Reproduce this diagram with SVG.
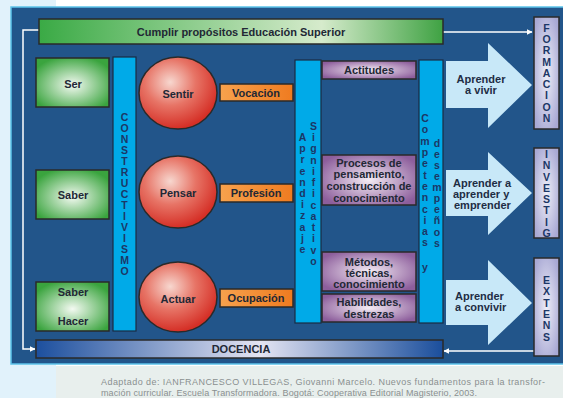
<svg xmlns="http://www.w3.org/2000/svg" width="563" height="398" viewBox="0 0 563 398">
<defs>
<linearGradient id="gTop" x1="0" y1="0" x2="1" y2="0">
<stop offset="0" stop-color="#3aaa45"/><stop offset="0.7" stop-color="#d6ebcc"/><stop offset="1" stop-color="#3fa243"/>
</linearGradient>
<linearGradient id="gDoc" x1="0" y1="0" x2="1" y2="0">
<stop offset="0" stop-color="#1c4f9e"/><stop offset="0.55" stop-color="#e4e4f2"/><stop offset="1" stop-color="#1a4e9c"/>
</linearGradient>
<radialGradient id="gGreen" cx="0.5" cy="0.55" r="0.6">
<stop offset="0" stop-color="#f4faf2"/><stop offset="1" stop-color="#3aa43e"/>
</radialGradient>
<radialGradient id="gRed" cx="0.4" cy="0.35" r="0.65">
<stop offset="0" stop-color="#f7d7cf"/><stop offset="0.5" stop-color="#e77466"/><stop offset="1" stop-color="#d52f26"/>
</radialGradient>
<linearGradient id="gOr" x1="0" y1="0" x2="1" y2="0">
<stop offset="0" stop-color="#f7a24d"/><stop offset="1" stop-color="#ef7b20"/>
</linearGradient>
<radialGradient id="gPur" cx="0.5" cy="0.5" r="0.6">
<stop offset="0" stop-color="#f4ecf4"/><stop offset="1" stop-color="#8d5e9c"/>
</radialGradient>
<radialGradient id="gLav" cx="0.5" cy="0.5" r="0.6">
<stop offset="0" stop-color="#eeeef8"/><stop offset="1" stop-color="#a9a9d4"/>
</radialGradient>
<marker id="ah" viewBox="0 0 10 10" refX="9" refY="5" markerWidth="6" markerHeight="6" orient="auto" markerUnits="userSpaceOnUse">
<path d="M0,0 L10,5 L0,10 Z" fill="#ffffff"/>
</marker>
<style>
text{font-family:"Liberation Sans",Arial,sans-serif;font-weight:bold;fill:#222835;font-size:11px;text-anchor:middle}
.bx{stroke:#2a2a2a;stroke-width:1.5}
.bar{fill:#00aae8;stroke:#1a2c44;stroke-width:1.2}
.vt{font-size:10.5px;fill:#1c3766}
.arr{fill:#c8e8f8}
.at{fill:#1e2d44}
.cap{font-family:"Liberation Sans",Arial,sans-serif;font-weight:normal;font-size:9px;fill:#8a8f90;text-anchor:start}
.ln{stroke:#ffffff;stroke-width:1.5;fill:none}
</style>
</defs>

<rect x="0" y="0" width="563" height="398" fill="#ffffff"/>
<rect x="0" y="0" width="56" height="398" fill="#e1f2fb"/>
<rect x="56" y="366" width="507" height="32" fill="#e8efed"/>
<rect x="11" y="7" width="560" height="357" fill="#22558a" stroke="#5cc3ea" stroke-width="1.5"/>

<g id="connectors">
<polyline class="ln" points="39,30 23,30 23,349 35,349" marker-end="url(#ah)"/>
<line class="ln" x1="443" y1="32" x2="532" y2="32" marker-end="url(#ah)"/>
<line class="ln" x1="534" y1="351" x2="444" y2="351" marker-end="url(#ah)"/>
</g>

<g id="top">
<rect class="bx" x="39" y="19" width="404" height="25" fill="url(#gTop)"/>
<text x="241" y="36">Cumplir propósitos Educación Superior</text>
</g>
<g id="docencia">
<rect class="bx" x="36" y="340" width="407" height="18" fill="url(#gDoc)"/>
<text x="241" y="353">DOCENCIA</text>
</g>

<g id="ser"><rect class="bx" x="36" y="58" width="73" height="49" fill="url(#gGreen)"/><text x="73" y="88">Ser</text></g>
<g id="saber"><rect class="bx" x="36" y="170" width="73" height="49" fill="url(#gGreen)"/><text x="73" y="199">Saber</text></g>
<g id="saberhacer"><rect class="bx" x="36" y="282" width="73" height="49" fill="url(#gGreen)"/><text x="73" y="296">Saber</text><text x="73" y="325">Hacer</text></g>

<g id="constructivismo">
<rect class="bar" x="113" y="57" width="23" height="274"/>
<text class="vt" x="124.5" y="121">C</text><text class="vt" x="124.5" y="132">O</text><text class="vt" x="124.5" y="143">N</text><text class="vt" x="124.5" y="154">S</text><text class="vt" x="124.5" y="165">T</text><text class="vt" x="124.5" y="176">R</text><text class="vt" x="124.5" y="187">U</text><text class="vt" x="124.5" y="198">C</text><text class="vt" x="124.5" y="209">T</text><text class="vt" x="124.5" y="220">I</text><text class="vt" x="124.5" y="231">V</text><text class="vt" x="124.5" y="242">I</text><text class="vt" x="124.5" y="253">S</text><text class="vt" x="124.5" y="264">M</text><text class="vt" x="124.5" y="275">O</text>
</g>

<g id="sentir"><ellipse class="bx" cx="178" cy="93" rx="39" ry="36" fill="url(#gRed)"/><text x="178" y="98">Sentir</text></g>
<g id="pensar"><ellipse class="bx" cx="178" cy="192" rx="39" ry="36" fill="url(#gRed)"/><text x="178" y="197">Pensar</text></g>
<g id="actuar"><ellipse class="bx" cx="178" cy="297" rx="39" ry="35" fill="url(#gRed)"/><text x="178" y="303">Actuar</text></g>

<g id="vocacion"><rect class="bx" x="220" y="84" width="73" height="17" fill="url(#gOr)"/><text x="256" y="97">Vocación</text></g>
<g id="profesion"><rect class="bx" x="220" y="184" width="73" height="18" fill="url(#gOr)"/><text x="256" y="197">Profesión</text></g>
<g id="ocupacion"><rect class="bx" x="220" y="289" width="73" height="18" fill="url(#gOr)"/><text x="256" y="302">Ocupación</text></g>

<g id="aprendizaje">
<rect class="bar" x="295" y="60" width="26" height="263"/>
<text class="vt" x="302.5" y="141">A</text><text class="vt" x="302.5" y="152">p</text><text class="vt" x="302.5" y="163">r</text><text class="vt" x="302.5" y="175">e</text><text class="vt" x="302.5" y="186">n</text><text class="vt" x="302.5" y="197">d</text><text class="vt" x="302.5" y="208">i</text><text class="vt" x="302.5" y="219">z</text><text class="vt" x="302.5" y="231">a</text><text class="vt" x="302.5" y="242">j</text><text class="vt" x="302.5" y="253">e</text>
<text class="vt" x="313.5" y="130">S</text><text class="vt" x="313.5" y="141">i</text><text class="vt" x="313.5" y="152">g</text><text class="vt" x="313.5" y="164">n</text><text class="vt" x="313.5" y="175">i</text><text class="vt" x="313.5" y="186">f</text><text class="vt" x="313.5" y="197">i</text><text class="vt" x="313.5" y="209">c</text><text class="vt" x="313.5" y="220">a</text><text class="vt" x="313.5" y="231">t</text><text class="vt" x="313.5" y="242">i</text><text class="vt" x="313.5" y="254">v</text><text class="vt" x="313.5" y="265">o</text>
</g>

<g id="actitudes"><rect class="bx" x="322" y="61" width="94" height="18" fill="url(#gPur)"/><text x="369" y="74">Actitudes</text></g>
<g id="procesos"><rect class="bx" x="322" y="155" width="94" height="50" fill="url(#gPur)"/>
<text x="369" y="167">Procesos de</text><text x="369" y="178">pensamiento,</text><text x="369" y="190">construcción de</text><text x="369" y="202">conocimiento</text></g>
<g id="metodos"><rect class="bx" x="322" y="252" width="94" height="39" fill="url(#gPur)"/>
<text x="369" y="266">Métodos,</text><text x="369" y="277">técnicas,</text><text x="369" y="288">conocimiento</text></g>
<g id="habilidades"><rect class="bx" x="322" y="294" width="94" height="28" fill="url(#gPur)"/>
<text x="369" y="306">Habilidades,</text><text x="369" y="318">destrezas</text></g>

<g id="competencias">
<rect class="bar" x="419" y="60" width="24" height="263"/>
<text class="vt" x="425" y="122">C</text><text class="vt" x="425" y="133">o</text><text class="vt" x="425" y="145">m</text><text class="vt" x="425" y="156">p</text><text class="vt" x="425" y="167">e</text><text class="vt" x="425" y="179">t</text><text class="vt" x="425" y="190">e</text><text class="vt" x="425" y="201">n</text><text class="vt" x="425" y="213">c</text><text class="vt" x="425" y="224">i</text><text class="vt" x="425" y="235">a</text><text class="vt" x="425" y="246">s</text>
<text class="vt" x="425" y="271">y</text>
<text class="vt" x="437" y="147">d</text><text class="vt" x="437" y="158">e</text><text class="vt" x="437" y="169">s</text><text class="vt" x="437" y="180">e</text><text class="vt" x="437" y="191">m</text><text class="vt" x="437" y="202">p</text><text class="vt" x="437" y="213">e</text><text class="vt" x="437" y="224">ñ</text><text class="vt" x="437" y="236">o</text><text class="vt" x="437" y="247">s</text>
</g>

<g id="arrow1"><polygon class="arr" points="446,61 488,61 488,43 532,85 488,128 488,108 446,108"/>
<text class="at" x="481" y="83">Aprender</text><text class="at" x="481" y="94">a vivir</text></g>
<g id="arrow2"><polygon class="arr" points="446,170 488,170 488,152 532,193 488,235 488,216 446,216"/>
<text class="at" x="453" y="187" style="text-anchor:start">Aprender a</text><text class="at" x="453" y="198" style="text-anchor:start">aprender y</text><text class="at" x="454" y="209" style="text-anchor:start">emprender</text></g>
<g id="arrow3"><polygon class="arr" points="446,280 488,280 488,260 532,303 488,345 488,325 446,325"/>
<text class="at" x="455" y="300" style="text-anchor:start">Aprender</text><text class="at" x="455" y="311" style="text-anchor:start">a convivir</text></g>

<g id="formacion"><rect class="bx" x="534" y="17" width="25" height="112" fill="url(#gLav)"/>
<text class="vt" x="546.5" y="32">F</text><text class="vt" x="546.5" y="43">O</text><text class="vt" x="546.5" y="54">R</text><text class="vt" x="546.5" y="66">M</text><text class="vt" x="546.5" y="77">A</text><text class="vt" x="546.5" y="88">C</text><text class="vt" x="546.5" y="99">I</text><text class="vt" x="546.5" y="111">O</text><text class="vt" x="546.5" y="122">N</text></g>
<g id="investig"><rect class="bx" x="534" y="148" width="25" height="90" fill="url(#gLav)"/>
<text class="vt" x="546.5" y="158">I</text><text class="vt" x="546.5" y="169">N</text><text class="vt" x="546.5" y="181">V</text><text class="vt" x="546.5" y="192">E</text><text class="vt" x="546.5" y="203">S</text><text class="vt" x="546.5" y="214">T</text><text class="vt" x="546.5" y="226">I</text><text class="vt" x="546.5" y="237">G</text></g>
<g id="extens"><rect class="bx" x="534" y="258" width="25" height="98" fill="url(#gLav)"/>
<text class="vt" x="546.5" y="284">E</text><text class="vt" x="546.5" y="295">X</text><text class="vt" x="546.5" y="307">T</text><text class="vt" x="546.5" y="318">E</text><text class="vt" x="546.5" y="329">N</text><text class="vt" x="546.5" y="341">S</text></g>

<g id="caption">
<text class="cap" x="101" y="385" textLength="444" lengthAdjust="spacing">Adaptado de: IANFRANCESCO VILLEGAS, Giovanni Marcelo. Nuevos fundamentos para la transfor-</text>
<text class="cap" x="101" y="396" textLength="376" lengthAdjust="spacing">mación curricular. Escuela Transformadora. Bogotá: Cooperativa Editorial Magisterio, 2003.</text>
</g>
</svg>
